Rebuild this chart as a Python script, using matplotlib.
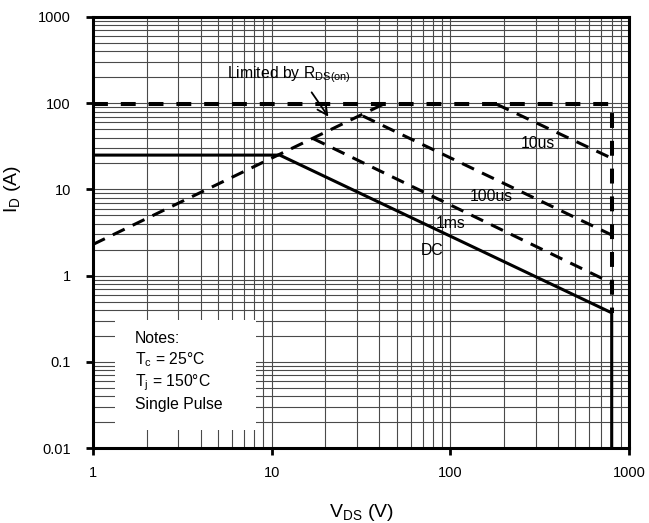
import matplotlib
matplotlib.use("Agg")
import matplotlib.pyplot as plt
from matplotlib.patches import Rectangle
from matplotlib.ticker import LogLocator, NullFormatter

plt.rcParams['font.family'] = ['Liberation Sans', 'DejaVu Sans']
plt.rcParams['mathtext.fontset'] = 'custom'
plt.rcParams['mathtext.rm'] = 'Liberation Sans'
plt.rcParams['mathtext.it'] = 'Liberation Sans'

# Data (V_DS in V, I_D in A)
rds_v = [1, 42]
rds_i = [2.3, 97]
limit_v = [1, 800, 800]
limit_i = [97, 97, 0.37]
us10_v = [182, 800]
us10_i = [97, 23]
us100_v = [32.4, 800]
us100_i = [71, 2.96]
ms1_v = [17, 800]
ms1_i = [39, 0.82]
dc_v = [1, 11.1, 800, 800]
dc_i = [25, 25, 0.37, 0.01]

x_ticks = [1, 10, 100, 1000]
x_ticklabels = ['1', '10', '100', '1000']
y_ticks = [0.01, 0.1, 1, 10, 100, 1000]
y_ticklabels = ['0.01', '0.1', '1', '10', '100', '1000']

fig = plt.figure(figsize=(6.49, 5.23), dpi=100)
ax = fig.add_axes([93/649, 1 - 448/523, 536/649, 431/523])
ax.set_xscale('log')
ax.set_yscale('log')
ax.set_xlim(1, 1000)
ax.set_ylim(0.01, 1000)

ax.set_xticks(x_ticks)
ax.set_xticklabels(x_ticklabels)
ax.set_yticks(y_ticks)
ax.set_yticklabels(y_ticklabels)
ax.xaxis.set_minor_locator(LogLocator(base=10, subs=range(2, 10), numticks=20))
ax.yaxis.set_minor_locator(LogLocator(base=10, subs=range(2, 10), numticks=20))
ax.xaxis.set_minor_formatter(NullFormatter())
ax.yaxis.set_minor_formatter(NullFormatter())
ax.tick_params(which='minor', length=0)
ax.tick_params(which='major', direction='out', length=5, width=2, labelsize=10.5)
ax.tick_params(axis='x', pad=8)
ax.tick_params(axis='y', pad=11)

ax.grid(which='both', color='#4a4a4a', lw=0.8, zorder=0)
ax.set_axisbelow(True)

thin = dict(color='black', lw=2.2, dashes=(4.3, 2.9), dash_capstyle='butt', zorder=3)
ax.plot(rds_v, rds_i, **thin)
ax.plot(us10_v, us10_i, **thin)
ax.plot(us100_v, us100_i, **thin)
ax.plot(ms1_v, ms1_i, **thin)
ax.plot(limit_v, limit_i, color='black', lw=2.9, dashes=(3.7, 3.2), dash_capstyle='butt', zorder=3)
ax.plot(dc_v, dc_i, color='black', lw=2.2, zorder=3)

for s in ax.spines.values():
    s.set_linewidth(2.2)
    s.set_zorder(5)

# Notes box
ax.add_patch(Rectangle((0.041, 0.042), 0.263, 0.255, transform=ax.transAxes,
                       facecolor='white', edgecolor='none', zorder=2))
notes = ['Notes:', r'T$_\mathregular{c}$ = 25°C', r'T$_\mathregular{j}$ = 150°C', 'Single Pulse']
for txt, yy in zip(notes, [0.255, 0.204, 0.151, 0.100]):
    ax.text(0.078, yy, txt, transform=ax.transAxes, fontsize=11.3, ha='left', va='center', zorder=4)

ax.text(5.6, 212, r'Limited by R$_\mathregular{DS(on)}$', fontsize=11.3, ha='left', va='center', zorder=4)
ax.annotate('', xy=(21.2, 65.6), xytext=(16.4, 142),
            arrowprops=dict(arrowstyle='->', lw=1.3, color='black', mutation_scale=18), zorder=4)
ax.text(309, 34.5, '10us', fontsize=11.3, ha='center', va='center', zorder=4)
ax.text(169, 8.2, '100us', fontsize=11.3, ha='center', va='center', zorder=4)
ax.text(101, 4.07, '1ms', fontsize=11.3, ha='center', va='center', zorder=4)
ax.text(78.9, 1.98, 'DC', fontsize=11.3, ha='center', va='center', zorder=4)

ax.set_xlabel(r'V$_\mathregular{DS}$ (V)', fontsize=14)
ax.set_ylabel(r'I$_\mathregular{D}$ (A)', fontsize=14)
ax.xaxis.set_label_coords(0.5, -0.125)
ax.yaxis.set_label_coords(-0.13, 0.60)

fig.savefig('out.png', dpi=100)
